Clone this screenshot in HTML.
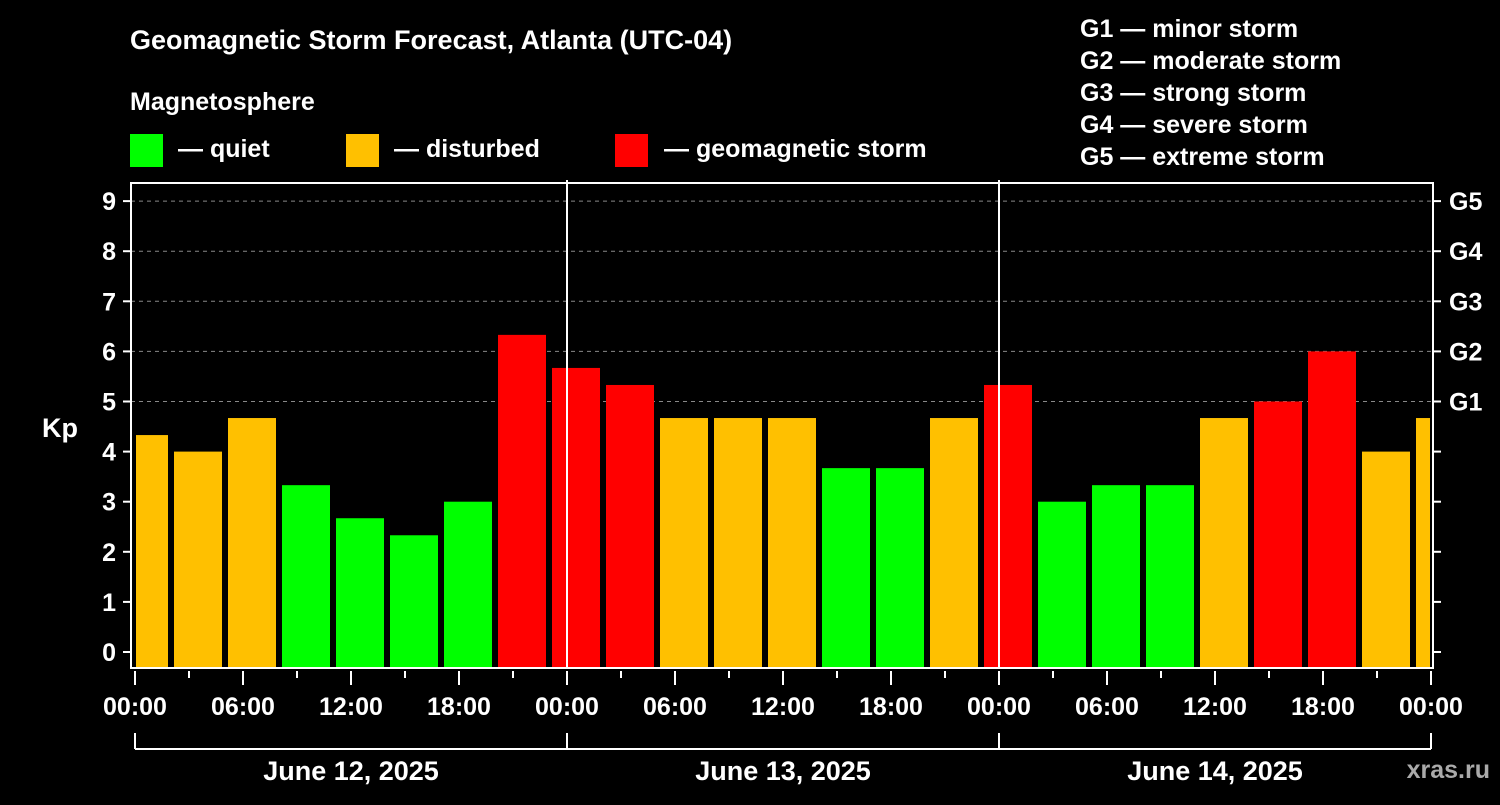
<!DOCTYPE html>
<html><head><meta charset="utf-8"><style>
body{margin:0;background:#000;}
svg text{font-family:"Liberation Sans",Arial,sans-serif;font-weight:bold;fill:#fff;}
</style></head><body>
<svg id="chart" width="1500" height="800" viewBox="0 0 1500 800">
<rect x="0" y="0" width="1500" height="800" fill="#000"/>
<text x="130" y="49" font-size="27">Geomagnetic Storm Forecast, Atlanta (UTC-04)</text>
<text x="130" y="110" font-size="25">Magnetosphere</text>
<g><rect x="130" y="134" width="33" height="33" fill="#00ff00"/><text x="178" y="157" font-size="25">— quiet</text></g>
<g><rect x="346" y="134" width="33" height="33" fill="#ffc000"/><text x="394" y="157" font-size="25">— disturbed</text></g>
<g><rect x="615" y="134" width="33" height="33" fill="#ff0000"/><text x="664" y="157" font-size="25">— geomagnetic storm</text></g>
<g font-size="25">
<text x="1080" y="37">G1 — minor storm</text>
<text x="1080" y="69">G2 — moderate storm</text>
<text x="1080" y="101">G3 — strong storm</text>
<text x="1080" y="133">G4 — severe storm</text>
<text x="1080" y="165">G5 — extreme storm</text>
</g>
<text x="42" y="437" font-size="27">Kp</text>
<g id="grid"></g><g id="bars"></g><g id="axes"></g>
<text x="1490" y="778" font-size="25" text-anchor="end" fill="#aaa" style="fill:#aaaaaa">xras.ru</text>
</svg>
<script>
const kpValues=[4.33,4,4.67,3.33,2.67,2.33,3,6.33,5.67,5.33,4.67,4.67,4.67,3.67,3.67,4.67,5.33,3,3.33,3.33,4.67,5,6,4,4.67];
const yTicks=[0,1,2,3,4,5,6,7,8,9];
const gLabels=["G1","G2","G3","G4","G5"];
const timeLabels=["00:00","06:00","12:00","18:00","00:00","06:00","12:00","18:00","00:00","06:00","12:00","18:00","00:00"];
const dayLabels=["June 12, 2025","June 13, 2025","June 14, 2025"];
const firstSlotHour=-1;
const NS="http://www.w3.org/2000/svg";
const L=131,R=1433,T=183,B=668,X0=135,PXH=18;
const xs=h=>X0+h*PXH, ys=v=>652-v*50.1;
function mk(tag,attrs,parent){const e=document.createElementNS(NS,tag);for(const k in attrs)e.setAttribute(k,attrs[k]);parent.appendChild(e);return e;}
const grid=document.getElementById('grid'),bars=document.getElementById('bars'),axes=document.getElementById('axes');
for(let v=5;v<=9;v++){const l=mk('line',{x1:L,x2:R,y1:ys(v),y2:ys(v),stroke:'#888','stroke-dasharray':'4,4','stroke-width':1},grid);

}
kpValues.forEach((v,i)=>{
 const h0=firstSlotHour+3*i;let x1=xs(h0)+3,x2=xs(h0+3)-3;x1=Math.max(x1,X0+1);x2=Math.min(x2,R-3);
 const c=v>=5?'#ff0000':(v>=4?'#ffc000':'#00ff00');
 const r=mk('rect',{x:x1,y:ys(v),width:x2-x1,height:B-ys(v),fill:c},bars);
 
 
});
const fr=mk('rect',{x:L,y:T,width:R-L,height:B-T,fill:'none',stroke:'#fff','stroke-width':2},axes);


[24,48].forEach(h=>{const l=mk('line',{x1:xs(h),x2:xs(h),y1:180,y2:B,stroke:'#fff','stroke-width':2},axes);

});
yTicks.forEach(v=>{
 mk('line',{x1:L-8,x2:L,y1:ys(v),y2:ys(v),stroke:'#fff','stroke-width':2},axes);
 mk('line',{x1:R,x2:R+8,y1:ys(v),y2:ys(v),stroke:'#fff','stroke-width':2},axes);
 const t=mk('text',{x:116,y:ys(v)+9,'font-size':25,'text-anchor':'end'},axes);t.textContent=v;
 
 
});
gLabels.forEach((g,i)=>{const t=mk('text',{x:1449,y:ys(5+i)+9,'font-size':25},axes);t.textContent=g;
 
 });
for(let h=0;h<=72;h+=3){const long=h%6===0;mk('line',{x1:xs(h),x2:xs(h),y1:B+3,y2:B+(long?17:10),stroke:'#fff','stroke-width':2},axes);}
timeLabels.forEach((s,i)=>{const t=mk('text',{x:xs(6*i),y:715,'font-size':25,'text-anchor':'middle'},axes);t.textContent=s;
 
 });
mk('line',{x1:xs(0),x2:xs(72),y1:749,y2:749,stroke:'#fff','stroke-width':2},axes);
[0,24,48,72].forEach(h=>mk('line',{x1:xs(h),x2:xs(h),y1:733,y2:749,stroke:'#fff','stroke-width':2},axes));
dayLabels.forEach((s,i)=>{const t=mk('text',{x:xs(24*i+12),y:780,'font-size':27,'text-anchor':'middle'},axes);t.textContent=s;
 
 });
</script>
</body></html>
